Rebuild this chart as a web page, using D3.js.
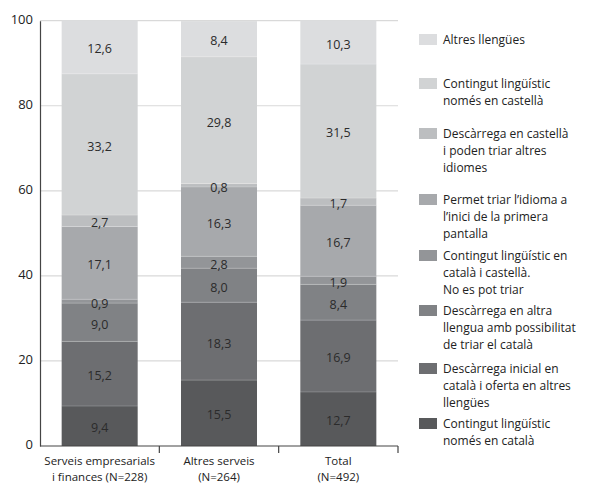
<!DOCTYPE html>
<html>
<head>
<meta charset="utf-8">
<script src="https://cdn.jsdelivr.net/npm/d3@7"></script>
<style>
  html, body { margin: 0; padding: 0; background: #fff; }
  svg { display: block; font-family: "Open Sans", "Noto Sans", sans-serif; }
</style>
</head>
<body>
<svg id="chart" width="589" height="484"></svg>
<script>
// Categories (x axis), each label split into its two lines
const categories = ["serveis", "altres", "total"];
const categoryLines = [
  ["Serveis empresarials", "i finances (N=228)"],
  ["Altres serveis", "(N=264)"],
  ["Total", "(N=492)"]
];

// Percentages per category, one array per series (bottom of the stack first)
const nomesCatala        = [9.4, 15.5, 12.7];
const inicialCatala      = [15.2, 18.3, 16.9];
const altraLlenguaCatala = [9.0, 8.0, 8.4];
const catalaCastella     = [0.9, 2.8, 1.9];
const permetTriar        = [17.1, 16.3, 16.7];
const castellaTriar      = [2.7, 0.8, 1.7];
const nomesCastella      = [33.2, 29.8, 31.5];
const altresLlengues     = [12.6, 8.4, 10.3];

// Series keys, bottom to top
const seriesKeys = ["nomesCatala", "inicialCatala", "altraLlenguaCatala", "catalaCastella",
                    "permetTriar", "castellaTriar", "nomesCastella", "altresLlengues"];
const seriesValues = [nomesCatala, inicialCatala, altraLlenguaCatala, catalaCastella,
                      permetTriar, castellaTriar, nomesCastella, altresLlengues];

// Legend text, bottom series first (drawn top to bottom in reverse)
const legendLines = [
  ["Contingut lingüístic", "només en català"],
  ["Descàrrega inicial en", "català i oferta en altres", "llengües"],
  ["Descàrrega en altra", "llengua amb possibilitat", "de triar el català"],
  ["Contingut lingüístic en", "català i castellà.", "No es pot triar"],
  ["Permet triar l’idioma a", "l’inici de la primera", "pantalla"],
  ["Descàrrega en castellà", "i poden triar altres", "idiomes"],
  ["Contingut lingüístic", "només en castellà"],
  ["Altres llengües"]
];

const yTicks = [0, 20, 40, 60, 80, 100];

// Grey ramp, darkest at the bottom of the stack
const colors = ["#58595b", "#6d6e71", "#808285", "#939598",
                "#a7a9ac", "#bcbec0", "#d1d3d4", "#dcdddf"];

// Build a table for d3.stack
const table = categories.map((c, i) => {
  const row = { category: c };
  seriesKeys.forEach((k, j) => { row[k] = seriesValues[j][i]; });
  return row;
});
const stacked = d3.stack().keys(seriesKeys)(table);

const svg = d3.select("#chart");
const plotLeft = 40, plotRight = 398, plotTop = 20.7, plotBottom = 446;

const x = d3.scaleBand().domain(categories).range([plotLeft, plotRight])
  .paddingInner(0.363).paddingOuter(0.1815);
const y = d3.scaleLinear().domain([0, 100]).range([plotBottom, plotTop]);

// Gridlines
svg.append("g").selectAll("line").data(yTicks.filter(t => t > 0)).join("line")
  .attr("x1", plotLeft).attr("x2", plotRight)
  .attr("y1", d => y(d)).attr("y2", d => y(d))
  .attr("stroke", "#d9d9d9").attr("stroke-width", 1.2);

// Stacked bars
const layers = svg.append("g").selectAll("g").data(stacked).join("g")
  .attr("fill", (d, i) => colors[i]);
layers.selectAll("rect").data(d => d).join("rect")
  .attr("x", d => x(d.data.category))
  .attr("width", x.bandwidth())
  .attr("y", d => y(d[1]))
  .attr("height", d => y(d[0]) - y(d[1]));

// Faint separators between segments
layers.filter((d, i) => i > 0).selectAll("line").data(d => d).join("line")
  .attr("x1", d => x(d.data.category))
  .attr("x2", d => x(d.data.category) + x.bandwidth())
  .attr("y1", d => y(d[0])).attr("y2", d => y(d[0]))
  .attr("stroke", "rgba(255,255,255,0.25)").attr("stroke-width", 0.8);

// Value labels
const fmt = v => d3.format(".1f")(v).replace(".", ",");
svg.append("g").selectAll("g").data(stacked).join("g")
  .selectAll("text").data(d => d.map(p => ({ p, key: d.key }))).join("text")
  .attr("x", d => x(d.p.data.category) + x.bandwidth() / 2)
  .attr("y", d => (y(d.p[0]) + y(d.p[1])) / 2 + 2)
  .attr("dy", "0.35em")
  .attr("text-anchor", "middle")
  .attr("font-size", 12.5)
  .attr("fill", "#2b2b2b")
  .text(d => fmt(d.p.data[d.key]));

// Y axis
const yAxis = d3.axisLeft(y).tickValues(yTicks).tickSize(0).tickPadding(7)
  .tickFormat(d3.format("d"));
const yg = svg.append("g").attr("transform", `translate(${plotLeft},0)`).call(yAxis);
yg.select(".domain").attr("stroke", "#444").attr("stroke-width", 1.2);
yg.selectAll("text").attr("font-size", 13).attr("fill", "#222")
  .attr("font-family", "\"Open Sans\", sans-serif").attr("dy", "0.2em");

// X axis baseline with ticks on the band boundaries
const step = x.step();
svg.append("line").attr("x1", plotLeft).attr("x2", plotRight)
  .attr("y1", plotBottom).attr("y2", plotBottom)
  .attr("stroke", "#444").attr("stroke-width", 1.2);
svg.append("g").selectAll("line").data(categories).join("line")
  .attr("x1", d => x(d) + x.bandwidth() / 2 + step / 2)
  .attr("x2", d => x(d) + x.bandwidth() / 2 + step / 2)
  .attr("y1", plotBottom).attr("y2", plotBottom + 7)
  .attr("stroke", "#444").attr("stroke-width", 1.2);

// Category labels, one text element per line
const catLabelRows = categories.flatMap((c, i) =>
  categoryLines[i].map((line, j) => ({ c, line, j })));
svg.append("g").selectAll("text").data(catLabelRows).join("text")
  .attr("x", d => x(d.c) + x.bandwidth() / 2)
  .attr("y", d => 465 + d.j * 15.8)
  .attr("text-anchor", "middle")
  .attr("font-size", 11.5)
  .attr("fill", "#222")
  .text(d => d.line);

// Legend, top series first
const legendBaselines = [44, 88, 138, 204, 260, 315, 373, 428];
const lineH = 17;
const legendOrder = d3.range(seriesKeys.length).reverse();
const lg = svg.append("g").selectAll("g").data(legendOrder).join("g");
lg.append("rect")
  .attr("x", 419).attr("width", 18)
  .attr("y", (d, i) => legendBaselines[i] - 10).attr("height", 11)
  .attr("fill", d => colors[d]);
lg.selectAll("text").data((d, i) => legendLines[d].map((line, j) => ({ line, j, i })))
  .join("text")
  .attr("x", 443)
  .attr("y", d => legendBaselines[d.i] + d.j * lineH)
  .attr("font-size", 12)
  .attr("fill", "#222")
  .text(d => d.line);
</script>
</body>
</html>
